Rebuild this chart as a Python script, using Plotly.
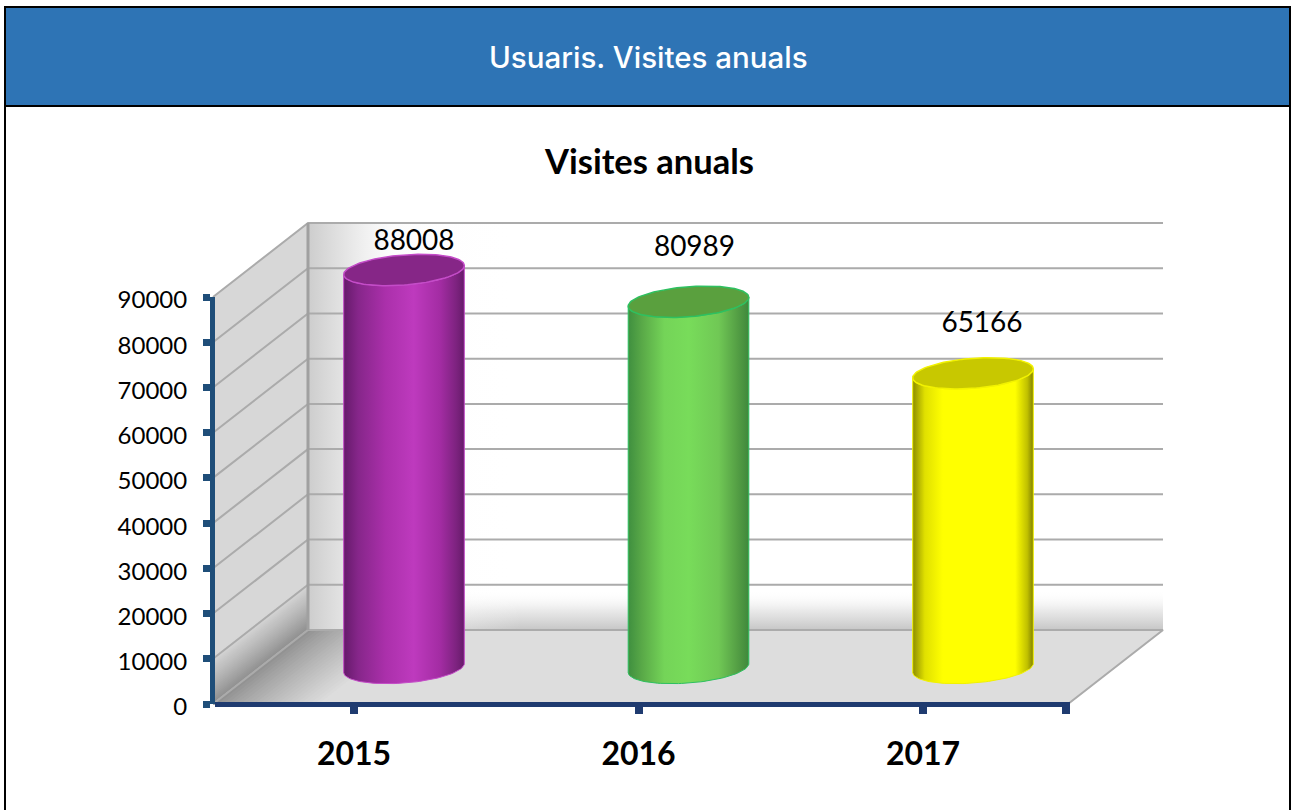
import numpy as np
import plotly.graph_objects as go

# ---- data ----
years = ["2015", "2016", "2017"]
visits = [88008, 80989, 65166]
y_ticks = [0, 10000, 20000, 30000, 40000, 50000, 60000, 70000, 80000, 90000]

# ---- styling ----
side_scales = [
    [[0, "#651A6A"], [0.12, "#86268A"], [0.35, "#AB30AB"], [0.58, "#BE3ABE"], [0.8, "#A32CA3"], [0.93, "#7E2380"], [1, "#661B6A"]],
    [[0, "#3F8F3F"], [0.12, "#5AAA48"], [0.3, "#74D458"], [0.5, "#78DC5A"], [0.75, "#70C855"], [0.9, "#55A045"], [1, "#3F883C"]],
    [[0, "#8C8C00"], [0.1, "#E0E000"], [0.25, "#FFFF00"], [0.85, "#FFFF00"], [0.95, "#C0C000"], [1, "#808000"]],
]
cap_fill = ["#862687", "#5AA03E", "#C8C800"]
rim = ["#C44CC8", "#2EC060", "#F2F200"]
label_dx_px = [60, 56, 59]
label_dy_px = [27, 53, 48]

W, H = 1291, 810
PX_CAT = 284.5
PX_VAL = 407 / 90000
TICK0 = 354      # pixel of the first category tick
ZERO = 704       # pixel of value 0
AX_L, AX_R = 215, 1070
FLOOR_R = 1068
END_TICK = 1066
DX, DY = 95, 74  # depth of the box, in pixels
BAR_DX, BAR_LIFT = 50, 36
A, B, TILT = 60.5, 15.0, np.radians(4.5)
GRID = "#ABABAB"


def cx(px):
    return (px - TICK0) / PX_CAT


def vy(py):
    return (ZERO - py) / PX_VAL


dxc, dyv = DX / PX_CAT, DY / PX_VAL
xl, xr = cx(AX_L - 2), cx(FLOOR_R)
top = y_ticks[-1]

fig = go.Figure()


def poly(xs, ys, color=None, grad=None, line=None, lw=0):
    kw = dict(
        x=list(xs) + [xs[0]], y=list(ys) + [ys[0]], mode="lines", fill="toself",
        line=dict(color=line or "rgba(0,0,0,0)", width=lw),
        hoverinfo="skip", showlegend=False,
    )
    if grad:
        kw["fillgradient"] = dict(type=grad[0], colorscale=grad[1])
    else:
        kw["fillcolor"] = color
    fig.add_trace(go.Scatter(**kw))


# back wall
bx = [xl + dxc, xr + dxc, xr + dxc, xl + dxc]
by = [dyv, dyv, top + dyv, top + dyv]
poly(bx, by, "#FFFFFF")
band = 40 / PX_VAL
poly([bx[0], bx[1], bx[1], bx[0]], [dyv, dyv, dyv + band, dyv + band],
     grad=("vertical", [[0, "rgba(198,198,198,1)"], [0.5, "rgba(232,232,232,0.9)"], [1, "rgba(255,255,255,0)"]]))
poly(bx, by, grad=("horizontal", [[0, "rgba(205,205,205,1)"], [0.05, "rgba(232,232,232,1)"], [0.1, "rgba(250,250,250,0.6)"], [0.25, "rgba(255,255,255,0)"], [1, "rgba(255,255,255,0)"]]))

# left wall: lightest first, each darker strip nested inside the previous one
poly([xl, xl + dxc, xl + dxc, xl], [0, dyv, top + dyv, top], "#D7D7D7")
n = 24
for k in range(n, 0, -1):
    f = k / n
    g = int(140 + (215 - 140) * f ** 0.9)
    h1 = 48 * f / PX_VAL
    poly([xl, xl + dxc, xl + dxc, xl], [0, dyv, dyv + h1, h1], f"rgb({g},{g},{g})")

# floor
poly([xl, xr, xr + dxc, xl + dxc], [0, 0, dyv, dyv], "#DDDDDD", line=GRID, lw=2)
for k in range(n, 0, -1):
    f = k / n
    g = int(140 + (221 - 140) * f ** 0.8)
    s1 = 110 * f / PX_CAT
    poly([xl, xl + s1, xl + dxc + s1, xl + dxc], [0, 0, dyv, dyv], f"rgb({g},{g},{g})")

# grid lines on the walls
for v in y_ticks:
    fig.add_trace(go.Scatter(x=[xl, xl + dxc, xr + dxc], y=[v, v + dyv, v + dyv], mode="lines",
                             line=dict(color=GRID, width=2), hoverinfo="skip", showlegend=False))
fig.add_trace(go.Scatter(x=[xl + dxc, xl + dxc], y=[dyv, top + dyv], mode="lines",
                         line=dict(color="#A0A0A0", width=3), hoverinfo="skip", showlegend=False))


# cylinders
def ellipse(i, v, t):
    ex = A * np.cos(t) * np.cos(TILT) - B * np.sin(t) * np.sin(TILT)
    ey = A * np.cos(t) * np.sin(TILT) + B * np.sin(t) * np.cos(TILT)
    return i + (BAR_DX + ex) / PX_CAT, v + (BAR_LIFT + ey) / PX_VAL


lower = np.linspace(np.pi, 2 * np.pi, 60)
full = np.linspace(0, 2 * np.pi, 120)
for i, v in enumerate(visits):
    x0, y0 = ellipse(i, 0, lower)
    x1, y1 = ellipse(i, v, lower[::-1])
    poly(np.r_[x0, x1], np.r_[y0, y1], grad=("horizontal", side_scales[i]), line=rim[i], lw=1)
    xe, ye = ellipse(i, v, full)
    poly(xe, ye, cap_fill[i], line=rim[i], lw=1.5)

# value labels
fig.add_trace(go.Scatter(
    x=[i + label_dx_px[i] / PX_CAT for i in range(3)],
    y=[v + (BAR_LIFT + label_dy_px[i]) / PX_VAL for i, v in enumerate(visits)],
    text=[str(v) for v in visits], mode="text", textposition="middle center",
    textfont=dict(family="Lato", size=28, color="#000000"), hoverinfo="skip", showlegend=False))

# front axes (same scale as the box, drawn over it)
fig.add_trace(go.Scatter(x=[0], y=[0], xaxis="x2", yaxis="y2", mode="markers",
                         marker=dict(opacity=0), hoverinfo="skip", showlegend=False))

YAXC = "#1F4E79"
XAXC = "#1F3B70"
fig.update_layout(
    width=W, height=H, autosize=False, margin=dict(l=0, r=0, t=0, b=0),
    paper_bgcolor="#FFFFFF", plot_bgcolor="rgba(0,0,0,0)", showlegend=False,
    xaxis=dict(domain=[0, 1], range=[cx(0), cx(W)], visible=False, fixedrange=True, automargin=False),
    yaxis=dict(domain=[0, 1], range=[vy(H), vy(0)], visible=False, fixedrange=True, automargin=False),
    xaxis2=dict(domain=[AX_L / W, AX_R / W], range=[cx(AX_L), cx(AX_R)], anchor="free",
                position=1 - 703.5 / H, automargin=False,
                tickmode="array", tickvals=[0, 1, 2, cx(END_TICK)], ticktext=[*years, ""],
                ticks="outside", ticklen=7, tickwidth=8, tickcolor=XAXC, showline=True, linecolor=XAXC,
                linewidth=5, showgrid=False, zeroline=False, ticklabelstandoff=13,
                tickfont=dict(family="Lato", size=32, color="#000000", weight="bold"), fixedrange=True),
    yaxis2=dict(domain=[1 - ZERO / H, 1 - 297 / H], range=[0, top], anchor="x2", automargin=False,
                tickmode="array", tickvals=y_ticks, ticktext=[str(t) for t in y_ticks],
                ticks="outside", ticklen=7, tickwidth=7, tickcolor=YAXC, showline=True, linecolor=YAXC,
                linewidth=5, showgrid=False, zeroline=False, ticklabelstandoff=11, ticklabelshift=3,
                tickfont=dict(family="Lato", size=24, color="#000000"), fixedrange=True),
    shapes=[
        dict(type="rect", xref="paper", yref="paper", x0=5 / W, x1=1290 / W, y0=1 - 106 / H, y1=1 - 7 / H,
             fillcolor="#2E74B5", line=dict(color="#000000", width=2), layer="below"),
        dict(type="line", xref="paper", yref="paper", x0=5 / W, x1=5 / W, y0=0, y1=1 - 7 / H,
             line=dict(color="#000000", width=2), layer="below"),
        dict(type="line", xref="paper", yref="paper", x0=1290 / W, x1=1290 / W, y0=0, y1=1 - 7 / H,
             line=dict(color="#000000", width=2), layer="below"),
    ],
    annotations=[
        dict(text="Usuaris. Visites anuals", xref="paper", yref="paper", x=649 / W, y=1 - 57 / H,
             showarrow=False, xanchor="center", yanchor="middle",
             font=dict(family="Inter", size=29.5, color="#FFFFFF", weight=500)),
        dict(text="<b>Visites anuals</b>", xref="paper", yref="paper", x=649 / W, y=1 - 161 / H,
             showarrow=False, xanchor="center", yanchor="middle",
             font=dict(family="Lato", size=34.5, color="#000000")),
    ],
)

fig.write_html("out.html", config={"displayModeBar": False},
               post_script="document.body.style.margin='0';document.documentElement.style.overflow='hidden';")
